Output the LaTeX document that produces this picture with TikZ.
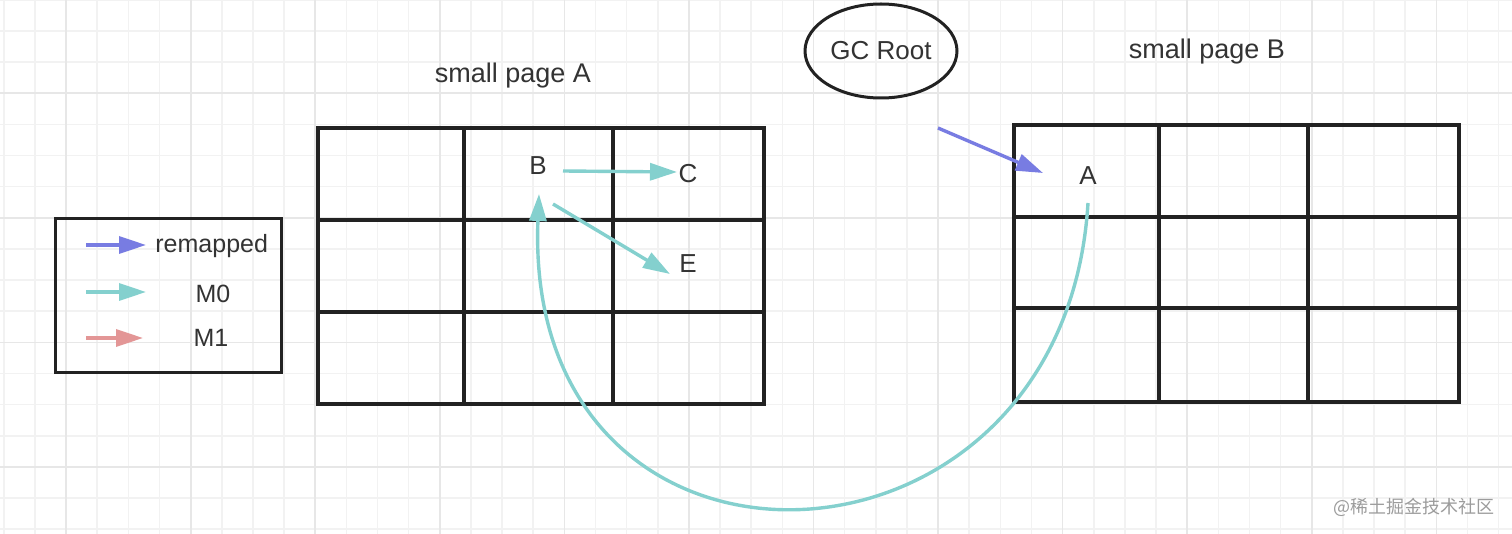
\documentclass[tikz,border=0pt]{standalone}
\usepackage{fontspec}
\setmainfont{Liberation Sans}
\newfontfamily\cjk{Noto Sans CJK SC}
\usetikzlibrary{arrows.meta,shapes.geometric}
\definecolor{txt}{HTML}{333333}
\definecolor{ink}{HTML}{222222}
\definecolor{minorg}{HTML}{F2F2F2}
\definecolor{majorg}{HTML}{E7E7E7}
\definecolor{tealc}{HTML}{84D0CE}
\definecolor{bluec}{HTML}{787CE2}
\definecolor{pinkc}{HTML}{E39696}
\definecolor{wm}{HTML}{9C9C9C}
\tikzset{
  lbl/.style={font=\fontsize{13}{15}\selectfont, text=txt, inner sep=0pt, anchor=base},
  ttl/.style={font=\fontsize{13.5}{15}\selectfont, text=txt, inner sep=0pt, anchor=base},
  leglbl/.style={font=\fontsize{12.5}{15}\selectfont, text=txt, inner sep=0pt},
  cell/.style={draw=ink, line width=1.7pt},
  tip/.style={-{Triangle[length=13.5pt,width=8.5pt]}},
  mzero/.style={draw=tealc, line width=1.7pt, tip},
  mone/.style={draw=pinkc, line width=1.7pt, tip},
  remap/.style={draw=bluec, line width=1.7pt, tip},
  gminor/.style={draw=minorg, line width=0.8pt},
  gmajor/.style={draw=majorg, line width=0.8pt},
}
\begin{document}
\begin{tikzpicture}[x=0.5pt,y=-0.5pt]
\useasboundingbox (0,0) rectangle (1512,534);
\fill[white] (0,0) rectangle (1512,534);
% background grid
\foreach \k in {0,...,48} \draw[gminor] (3.86+31.14*\k,0) -- (3.86+31.14*\k,534);
\foreach \k in {0,...,17} \draw[gminor] (0,-0.14+31.14*\k) -- (1512,-0.14+31.14*\k);
\foreach \j in {0,...,11} \draw[gmajor] (66.14+124.56*\j,0) -- (66.14+124.56*\j,534);
\foreach \j in {0,...,3} \draw[gmajor] (0,93.3+124.56*\j) -- (1512,93.3+124.56*\j);

% small page A
\draw[cell] (318,128) rectangle (764,404);
\draw[cell] (464,128) -- (464,404);
\draw[cell] (613,128) -- (613,404);
\draw[cell] (318,220) -- (764,220);
\draw[cell] (318,312) -- (764,312);
% small page B
\draw[cell] (1014,125) rectangle (1459,402);
\draw[cell] (1159,125) -- (1159,402);
\draw[cell] (1308,125) -- (1308,402);
\draw[cell] (1014,217) -- (1459,217);
\draw[cell] (1014,308) -- (1459,308);

% titles
\node[ttl] (pa) at (513,83) {small page A};
\node[ttl] (pb) at (1207,59) {small page B};
\node[draw=ink, line width=1.5pt, ellipse, minimum width=76pt, minimum height=47pt,
      inner sep=0pt, font=\fontsize{13}{15}\selectfont, text=txt] (gc) at (881,51) {GC Root};

% object labels
\node[lbl] (B) at (538,175) {B};
\node[lbl] (C) at (688,183) {C};
\node[lbl] (E) at (688,273) {E};
\node[lbl] (A) at (1088,185) {A};

% connectors
\coordinate (gcout) at (938,128);
\draw[remap] (gcout) -- ([shift={(-45,-12)}]A.base);
\draw[mzero] ([shift={(25,-4)}]B.base) -- ([shift={(-11,-11)}]C.base);
\draw[mzero] ([shift={(15,29)}]B.base) -- ([shift={(-18,1)}]E.base);
\draw[mzero] ([shift={(0,18)}]A.base) .. controls (1064,600) and (522,618) .. ([shift={(1,19)}]B.base);

% legend
\node[draw=ink, line width=1.5pt, minimum width=113pt, minimum height=77pt, inner sep=0pt] (legend) at (168,296) {};
\node[leglbl, anchor=base west] (rem) at (155,253) {remapped};
\node[leglbl, anchor=base] (mz) at (213,303) {M0};
\node[leglbl, anchor=base] (mo) at (211,347) {M1};
\coordinate (l1) at (86,245);
\coordinate (l2) at (86,292);
\coordinate (l3) at (86,338);
\draw[remap] (l1) -- ([shift={(-9,-8)}]rem.base west);
\draw[mzero] (l2) -- ([shift={(-67,-11)}]mz.base);
\draw[mone] (l3) -- ([shift={(-68,-9)}]mo.base);

% watermark
\node[font=\cjk\fontsize{9}{11}\selectfont, text=wm, inner sep=0pt, anchor=west] (wmk) at (1333,507) {@稀土掘金技术社区};
\end{tikzpicture}
\end{document}
